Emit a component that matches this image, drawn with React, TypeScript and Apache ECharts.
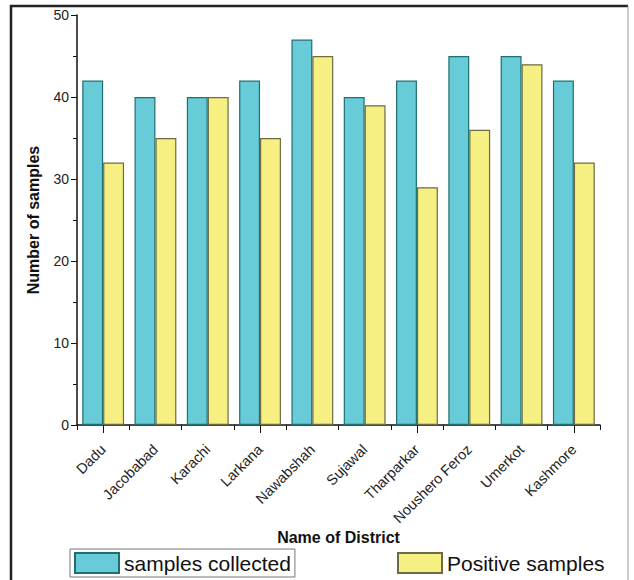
import React, { useEffect, useRef } from "react";
import * as echarts from "echarts";

const categories = ["Dadu", "Jacobabad", "Karachi", "Larkana", "Nawabshah", "Sujawal", "Tharparkar", "Noushero Feroz", "Umerkot", "Kashmore"];
const collected = [42, 40, 40, 42, 47, 40, 42, 45, 45, 42];
const positive = [32, 35, 40, 35, 45, 39, 29, 36, 44, 32];
const yTicks = [0, 10, 20, 30, 40, 50];

const FONT = "Liberation Sans, Arial, sans-serif";

export default function App() {
  const ref = useRef<HTMLDivElement>(null);
  useEffect(() => {
    document.body.style.margin = "0";
    const chart = echarts.init(ref.current!, null, { renderer: "svg" });
    chart.setOption({
      animation: false,
      textStyle: { fontFamily: FONT },
      grid: { left: 77, right: 34, top: 15, bottom: 155 },
      legend: [
        {
          data: ["samples collected"],
          left: 70,
          top: 549,
          icon: "rect",
          itemWidth: 44,
          itemHeight: 20,
          padding: [3, 4, 3, 4],
          borderColor: "#777",
          borderWidth: 1,
          textStyle: { fontSize: 21, color: "#111", fontFamily: FONT },
        },
        {
          data: ["Positive samples"],
          left: 397,
          top: 552,
          icon: "rect",
          itemWidth: 44,
          itemHeight: 20,
          padding: 0,
          textStyle: { fontSize: 21, color: "#111", fontFamily: FONT },
        },
      ],
      xAxis: [
        {
          type: "category",
          data: categories,
          name: "Name of District",
          nameLocation: "middle",
          nameGap: 104,
          nameMoveOverlap: false,
          nameTextStyle: { fontSize: 16, fontWeight: "bold", color: "#111", fontFamily: FONT },
          axisLine: { lineStyle: { color: "#111", width: 1.5 } },
          axisTick: { show: true, length: 5, lineStyle: { color: "#111" } },
          axisLabel: { rotate: 45, fontSize: 14.5, color: "#222", margin: 22, interval: 0, fontFamily: FONT },
        },
        {
          type: "category",
          data: categories,
          position: "bottom",
          axisLine: { show: false },
          axisTick: { show: true, alignWithLabel: true, length: 8, lineStyle: { color: "#111" } },
          axisLabel: { show: false },
        },
      ],
      yAxis: {
        type: "value",
        min: 0,
        max: 50,
        interval: 10,
        name: "Number of samples",
        nameLocation: "middle",
        nameGap: 36,
        nameTextStyle: { fontSize: 16, fontWeight: "bold", color: "#111", fontFamily: FONT },
        axisLine: { show: true, lineStyle: { color: "#111", width: 1.5 } },
        axisTick: { show: true, length: 6, lineStyle: { color: "#111" } },
        minorTick: { show: true, splitNumber: 2, length: 4, lineStyle: { color: "#111" } },
        splitLine: { show: false },
        axisLabel: {
          fontSize: 14,
          color: "#222",
          margin: 8,
          fontFamily: FONT,
          formatter: (v: number) => (yTicks.includes(v) ? String(v) : ""),
        },
      },
      series: [
        {
          name: "samples collected",
          type: "bar",
          data: collected,
          barGap: "0%",
          barCategoryGap: "20%",
          itemStyle: { color: "#67CBD8", borderColor: "#1F6F70", borderWidth: 1.2 },
        },
        {
          name: "Positive samples",
          type: "bar",
          data: positive,
          barGap: "0%",
          barCategoryGap: "20%",
          itemStyle: { color: "#F6F082", borderColor: "#6E6A45", borderWidth: 1.2 },
        },
      ],
      graphic: [
        { type: "polyline", shape: { points: [[11, 600], [11, 6], [628, 6]] }, style: { stroke: "#222", lineWidth: 2.5, fill: "none" }, silent: true },
        { type: "line", shape: { x1: 628, y1: 6, x2: 628, y2: 600 }, style: { stroke: "#999", lineWidth: 1 }, silent: true },
      ],
    });
    return () => chart.dispose();
  }, []);
  return <div ref={ref} style={{ width: 634, height: 580 }} />;
}
